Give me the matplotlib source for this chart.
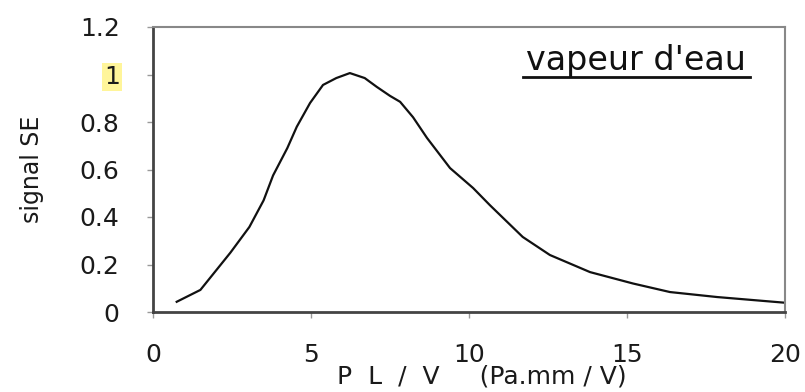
import matplotlib.pyplot as plt

plt.rcParams['font.family'] = ['DejaVu Sans']

# signal SE vs P L / V
pl_v = [0.75, 1.5, 2.45, 3.05, 3.5, 3.8, 4.25, 4.55, 4.97, 5.38, 5.8, 6.23,
        6.7, 7.08, 7.5, 7.82, 8.23, 8.67, 9.4, 10.13, 10.66, 11.7, 12.56,
        13.83, 15.19, 16.36, 17.85, 20.0]
signal = [0.043, 0.093, 0.25, 0.358, 0.47, 0.575, 0.69, 0.78, 0.88, 0.956,
          0.985, 1.006, 0.985, 0.948, 0.91, 0.885, 0.82, 0.733, 0.606, 0.522,
          0.45, 0.316, 0.24, 0.168, 0.12, 0.084, 0.063, 0.039]

x_ticks = [0, 5, 10, 15, 20]
y_ticks = [0, 0.2, 0.4, 0.6, 0.8, 1, 1.2]
y_labels = ['0', '0.2', '0.4', '0.6', '0.8', '1', '1.2']

fig = plt.figure(figsize=(8.05, 3.92), dpi=100)
ax = fig.add_axes([153 / 805, 80 / 392, 632 / 805, 285 / 392])

ax.plot(pl_v, signal, color='#111111', lw=1.6)

ax.set_xlim(0, 20)
ax.set_ylim(0, 1.2)
ax.set_xticks(x_ticks)
ax.set_yticks(y_ticks)
ax.set_yticklabels(y_labels)
ax.tick_params(axis='both', direction='out', length=4, width=1, color='#999999',
               labelsize=18, labelcolor='#1a1a1a')
ax.tick_params(axis='x', pad=18)
ax.tick_params(axis='y', pad=20)

for s in ['left', 'bottom']:
    ax.spines[s].set_color('#444444')
    ax.spines[s].set_linewidth(2)
for s in ['top', 'right']:
    ax.spines[s].set_color('#888888')
    ax.spines[s].set_linewidth(1.5)

# yellow highlight on the "1" label
for lbl in ax.get_yticklabels():
    if lbl.get_text() == '1':
        lbl.set_bbox(dict(facecolor='#fff59a', edgecolor='none', pad=1.5))

ax.set_ylabel('signal SE', fontsize=17, color='#1a1a1a', va='center')
ax.yaxis.set_label_coords(-0.191, 0.5)
ax.set_xlabel('P  L  /  V     (Pa.mm / V)', fontsize=18, color='#1a1a1a', va='center')
ax.xaxis.set_label_coords(0.52, -0.228)

ax.text(0.764, 0.849, "vapeur d'eau", transform=ax.transAxes, fontsize=24,
        ha='center', va='baseline', color='#111111')
ax.plot([0.585, 0.945], [0.823, 0.823], transform=ax.transAxes, color='#111111', lw=2)

fig.savefig('out.png', dpi=100)
